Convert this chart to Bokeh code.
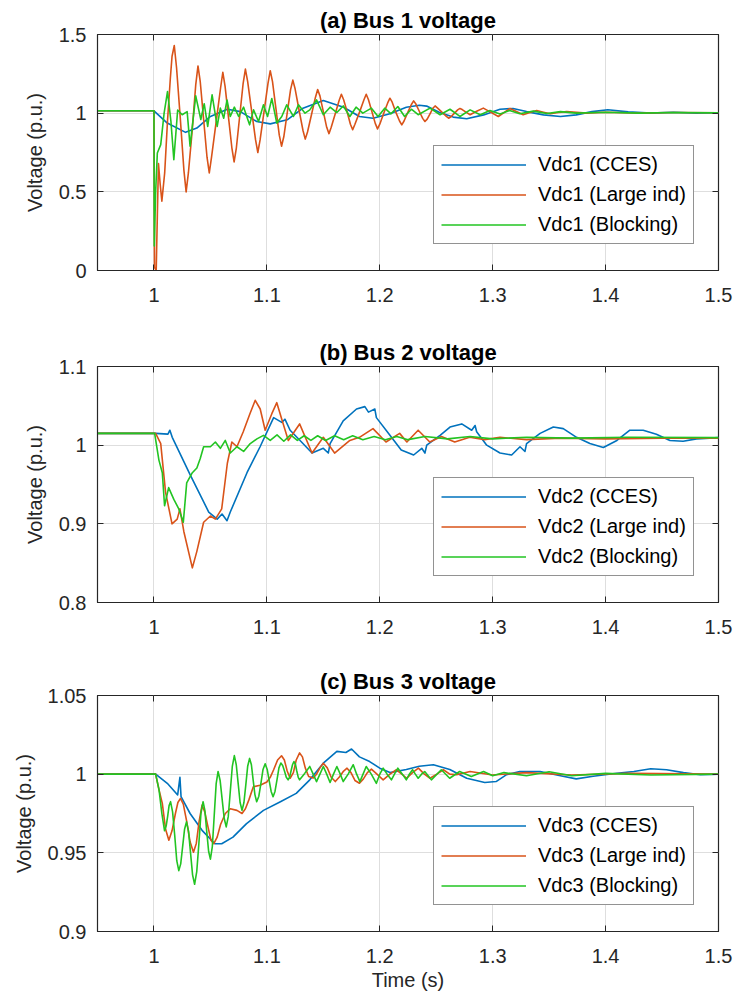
from bokeh.plotting import figure
from bokeh.layouts import column
from bokeh.models import FixedTicker, LinearAxis, Legend, LegendItem, Range1d
from bokeh.embed import file_html
from bokeh.resources import INLINE

# ---------------- data ----------------
x_ticks = [1.0, 1.1, 1.2, 1.3, 1.4, 1.5]
x_tick_labels = ["1", "1.1", "1.2", "1.3", "1.4", "1.5"]

a_y_ticks = [0.0, 0.5, 1.0, 1.5]
a_y_labels = ["0", "0.5", "1", "1.5"]
b_y_ticks = [0.8, 0.9, 1.0, 1.1]
b_y_labels = ["0.8", "0.9", "1", "1.1"]
c_y_ticks = [0.9, 0.95, 1.0, 1.05]
c_y_labels = ["0.9", "0.95", "1", "1.05"]

series_names = ["CCES", "Large ind", "Blocking"]

# Panel (a) Bus 1
a_t_cces = [0.95, 1.0, 1.0118, 1.028, 1.038, 1.05, 1.065, 1.0765, 1.091, 1.103, 1.118, 1.132, 1.15,
            1.168, 1.182, 1.194, 1.209, 1.2235, 1.235, 1.2415, 1.253, 1.265, 1.277, 1.292, 1.3065,
            1.318, 1.33, 1.345, 1.36, 1.374, 1.388, 1.402, 1.42, 1.44, 1.46, 1.48, 1.5]
a_v_cces = [1.015, 1.015, 0.937, 0.878, 0.905, 0.979, 1.025, 1.01, 0.947, 0.932, 0.958, 1.032, 1.08,
            1.038, 0.979, 0.968, 0.996, 1.038, 1.05, 1.045, 1.004, 0.975, 0.965, 0.989, 1.025,
            1.03, 1.01, 0.989, 0.979, 0.989, 1.01, 1.022, 1.008, 1.0, 1.006, 1.0, 1.003]

a_t_large = [0.95, 1.0, 1.0005, 1.002, 1.003, 1.004, 1.0055, 1.007, 1.0095, 1.012, 1.0145, 1.016,
             1.018, 1.020, 1.0233, 1.0265, 1.0285, 1.0305, 1.034, 1.037, 1.039, 1.041, 1.044,
             1.047, 1.049, 1.051, 1.055, 1.059, 1.061, 1.063, 1.066, 1.069, 1.071, 1.073, 1.076,
             1.079, 1.081, 1.083, 1.0865, 1.090, 1.092, 1.094, 1.0975, 1.101, 1.103, 1.105, 1.108,
             1.111, 1.113, 1.115, 1.118, 1.121, 1.123, 1.125, 1.1285, 1.132, 1.134, 1.136, 1.1395,
             1.143, 1.145, 1.147, 1.150, 1.153, 1.155, 1.157, 1.1605, 1.164, 1.166, 1.168, 1.171,
             1.174, 1.176, 1.178, 1.182, 1.186, 1.188, 1.190, 1.193, 1.196, 1.198, 1.200, 1.2035,
             1.207, 1.209, 1.211, 1.214, 1.2175, 1.2195, 1.2215, 1.2245, 1.228, 1.23, 1.232,
             1.235, 1.238, 1.24, 1.242, 1.2445, 1.247, 1.249, 1.251, 1.255, 1.259, 1.261, 1.263,
             1.266, 1.269, 1.271, 1.273, 1.276, 1.280, 1.2858, 1.2917, 1.2985, 1.305, 1.310,
             1.3153, 1.321, 1.327, 1.333, 1.339, 1.345, 1.351, 1.358, 1.3655, 1.383, 1.40, 1.43,
             1.46, 1.5]
a_v_large = [1.015, 1.015, 0.02, 0.0, 0.35, 0.68, 0.55, 0.44, 0.62, 0.95, 1.22, 1.36,
             1.43, 1.29, 0.97, 0.64, 0.50, 0.62, 0.90, 1.18, 1.30, 1.20, 0.96,
             0.72, 0.62, 0.72, 0.94, 1.16, 1.26, 1.17, 0.975, 0.78, 0.69, 0.78, 0.985,
             1.19, 1.28, 1.20, 1.015, 0.83, 0.75, 0.83, 1.01, 1.19, 1.27, 1.20, 1.03,
             0.86, 0.79, 0.85, 1.0, 1.15, 1.21, 1.155, 1.02, 0.89, 0.835, 0.88, 0.99,
             1.10, 1.15, 1.11, 1.01, 0.91, 0.87, 0.91, 0.995, 1.08, 1.12, 1.085, 1.01,
             0.93, 0.895, 0.93, 1.005, 1.085, 1.12, 1.085, 1.01, 0.935, 0.90, 0.93, 1.0,
             1.065, 1.095, 1.07, 1.01, 0.95, 0.926, 0.95, 1.0, 1.055, 1.078, 1.058,
             1.012, 0.967, 0.947, 0.962, 0.996, 1.031, 1.046, 1.034, 1.007, 0.98, 0.968, 0.977,
             0.999, 1.021, 1.03, 1.023, 1.008, 0.99, 1.012, 1.032, 1.005, 0.979, 1.003,
             1.03, 1.01, 0.99, 1.004, 1.017, 1.006, 0.996, 1.004, 1.01, 1.0, 1.006, 1.0,
             1.004, 1.003]

a_t_block = [0.95, 1.0, 1.0003, 1.0015, 1.003, 1.006, 1.009, 1.012, 1.015, 1.0176, 1.021, 1.025,
             1.0294, 1.032, 1.037, 1.0415, 1.0445, 1.0476, 1.0515, 1.056, 1.0588, 1.0618, 1.0647,
             1.0676, 1.0712, 1.075, 1.0794, 1.0847, 1.0882, 1.0926, 1.097, 1.1006, 1.1044, 1.1088,
             1.1132, 1.1176, 1.1235, 1.128, 1.1338, 1.138, 1.144, 1.15, 1.156, 1.162, 1.1676,
             1.1735, 1.179, 1.185, 1.1926, 1.1985, 1.2044, 1.21, 1.216, 1.222, 1.228, 1.234,
             1.2445, 1.2534, 1.2622, 1.271, 1.28, 1.289, 1.2976, 1.3065, 1.315, 1.324, 1.336,
             1.348, 1.36, 1.374, 1.40, 1.43, 1.46, 1.5]
a_v_block = [1.015, 1.015, 0.156, 0.5, 0.747, 0.80, 1.0, 1.137, 0.95, 0.705, 1.02, 0.99,
             1.01, 0.79, 1.11, 0.96, 1.06, 0.916, 1.116, 0.916, 1.032, 0.968, 1.084,
             0.979, 1.038, 0.979, 1.038, 0.926, 1.021, 0.947, 1.053, 0.979, 1.093, 0.937,
             0.979, 1.053, 0.979, 1.053, 1.0, 1.021, 1.084, 0.99, 1.038, 1.004, 1.046,
             0.979, 1.038, 1.0, 1.032, 0.979, 1.032, 0.996, 1.042, 0.979, 1.025, 0.99,
             1.032, 0.99, 1.025, 0.979, 1.021, 0.99, 1.017, 0.994, 1.017, 0.996, 1.013,
             0.998, 1.01, 1.0, 1.006, 1.0, 1.004, 1.002]

# Panel (b) Bus 2
b_t_cces = [0.95, 1.0015, 1.0124, 1.0141, 1.0162, 1.032, 1.0485, 1.056, 1.0603, 1.0647, 1.0676,
            1.0824, 1.094, 1.106, 1.1132, 1.116, 1.1206, 1.1294, 1.14, 1.15, 1.1544, 1.156,
            1.1676, 1.1794, 1.1868, 1.19, 1.1956, 1.197, 1.209, 1.219, 1.23, 1.2372, 1.24,
            1.2416, 1.2534, 1.2622, 1.2726, 1.2814, 1.2844, 1.2858, 1.2947, 1.3065, 1.3168,
            1.3242, 1.3286, 1.33, 1.342, 1.3537, 1.3625, 1.3743, 1.3861, 1.398, 1.41, 1.4215,
            1.4333, 1.445, 1.457, 1.4687, 1.4805, 1.5]
b_v_cces = [1.015, 1.015, 1.014, 1.019, 1.010, 0.9625, 0.915, 0.906, 0.9125, 0.904, 0.915,
            0.965, 0.998, 1.035, 1.029, 1.033, 1.019, 1.006, 0.99, 0.996, 0.990, 1.002,
            1.031, 1.046, 1.049, 1.042, 1.046, 1.035, 1.0125, 0.994, 0.9875, 0.996, 0.990,
            1.0, 1.0125, 1.023, 1.027, 1.019, 1.025, 1.017, 1.0, 0.990, 0.9875,
            0.998, 0.992, 1.002, 1.015, 1.023, 1.021, 1.01, 1.002, 0.997, 1.006, 1.019,
            1.019, 1.014, 1.006, 1.005, 1.008, 1.0096]

b_t_large = [0.95, 1.0015, 1.006, 1.0103, 1.016, 1.0206, 1.023, 1.0265, 1.034, 1.038, 1.044, 1.05,
             1.0544, 1.06, 1.065, 1.069, 1.0735, 1.079, 1.085, 1.0897, 1.0941, 1.0985, 1.1044,
             1.1088, 1.1132, 1.119, 1.129, 1.14, 1.15, 1.16, 1.1735, 1.182, 1.194, 1.2055,
             1.2176, 1.224, 1.234, 1.2443, 1.2546, 1.2664, 1.2796, 1.2929, 1.3065, 1.33, 1.36,
             1.4, 1.45, 1.5]
b_v_large = [1.015, 1.015, 1.002, 0.94, 0.90, 0.906, 0.919, 0.89, 0.844, 0.865, 0.902, 0.91,
             0.906, 0.919, 0.977, 1.004, 0.998, 1.0167, 1.04, 1.057, 1.046, 1.019, 1.04,
             1.054, 1.033, 1.006, 1.027, 0.99, 1.010, 0.99, 1.006, 1.01, 1.021, 1.004,
             1.015, 1.004, 1.019, 1.004, 1.011, 1.004, 1.01, 1.007, 1.01, 1.007, 1.009,
             1.008, 1.009, 1.009]

b_t_block = [0.95, 1.0006, 1.0044, 1.0074, 1.0094, 1.013, 1.0176, 1.022, 1.026, 1.029, 1.034,
             1.038, 1.041, 1.044, 1.05, 1.0544, 1.0588, 1.0632, 1.0676, 1.0735, 1.0794, 1.0853,
             1.0912, 1.097, 1.103, 1.109, 1.115, 1.121, 1.127, 1.133, 1.139, 1.145, 1.152, 1.16,
             1.168, 1.176, 1.185, 1.195, 1.205, 1.215, 1.225, 1.24, 1.26, 1.28, 1.3, 1.33, 1.37,
             1.42, 1.5]
b_v_block = [1.015, 1.015, 0.981, 0.965, 0.923, 0.946, 0.931, 0.919, 0.902, 0.952, 0.965,
             0.971, 0.983, 0.998, 0.998, 1.004, 0.996, 1.006, 0.99, 0.998, 0.992, 1.002,
             1.008, 1.0125, 1.006, 1.013, 1.005, 1.013, 1.006, 1.012, 1.006, 1.012, 1.006, 1.012,
             1.007, 1.012, 1.007, 1.011, 1.007, 1.011, 1.007, 1.011, 1.008, 1.011, 1.008, 1.01, 1.009,
             1.01, 1.0096]

# Panel (c) Bus 3
c_t_cces = [0.95, 1.0015, 1.0118, 1.021, 1.023, 1.024, 1.032, 1.0426, 1.054, 1.06, 1.07, 1.082,
            1.097, 1.112, 1.126, 1.138, 1.15, 1.162, 1.17, 1.175, 1.182, 1.191, 1.2, 1.209,
            1.2235, 1.235, 1.2475, 1.262, 1.277, 1.293, 1.303, 1.312, 1.324, 1.342, 1.36, 1.374,
            1.389, 1.41, 1.425, 1.44, 1.454, 1.469, 1.484, 1.5]
c_v_cces = [1.0, 1.0, 0.9942, 0.9868, 0.998, 0.9857, 0.975, 0.9643, 0.9558, 0.9558, 0.96, 0.9686,
            0.977, 0.9825, 0.9878, 0.9964, 1.007, 1.0145, 1.0138, 1.016, 1.011, 1.008, 1.0038, 1.001,
            1.003, 1.005, 1.006, 1.003, 0.9974, 0.9947, 0.9953, 0.9996, 1.0017, 1.0017, 0.999, 0.997,
            0.9987, 1.0006, 1.0017, 1.0034, 1.0028, 1.001, 0.9996, 1.0]

c_t_large = [0.95, 1.0015, 1.0045, 1.0074, 1.0103, 1.0132, 1.016, 1.019, 1.0212, 1.0235, 1.026,
             1.029, 1.032, 1.035, 1.0375, 1.040, 1.0426, 1.045, 1.048, 1.0505, 1.053, 1.056,
             1.059, 1.0632, 1.0676, 1.0735, 1.078, 1.081, 1.084, 1.088, 1.094, 1.1, 1.103, 1.106,
             1.1095, 1.113, 1.1155, 1.118, 1.1206, 1.1235, 1.126, 1.129, 1.1315, 1.134, 1.137,
             1.141, 1.144, 1.147, 1.15, 1.1535, 1.157, 1.1606, 1.164, 1.168, 1.171, 1.1745,
             1.178, 1.182, 1.1855, 1.189, 1.1926, 1.1975, 1.203, 1.209, 1.2147, 1.2195, 1.2239,
             1.229, 1.2342, 1.2395, 1.2445, 1.2505, 1.2563, 1.262, 1.268, 1.28, 1.3, 1.33, 1.37,
             1.42, 1.5]
c_v_large = [1.0, 1.0, 0.990, 0.9814, 0.965, 0.958, 0.964, 0.975, 0.982, 0.9846, 0.981,
             0.970, 0.957, 0.9504, 0.956, 0.970, 0.9803, 0.976, 0.966, 0.958, 0.9558, 0.960,
             0.968, 0.975, 0.978, 0.977, 0.975, 0.978, 0.9835, 0.992, 0.993, 0.995, 0.998, 1.0028,
             1.009, 1.0117, 1.009, 1.002, 0.9974, 1.001, 1.009, 1.0135, 1.011, 1.004, 0.9985,
             0.9975, 1.0, 1.004, 1.007, 1.004, 0.998, 0.9953, 0.998, 1.002, 1.0038, 1.001,
             0.996, 0.9942, 0.997, 1.001, 1.0032, 1.0, 0.9964, 1.0, 1.0028, 1.0, 0.9974,
             1.001, 1.0038, 1.0, 0.9974, 1.0, 1.0028, 1.0, 0.9996, 1.0017, 0.9995, 1.001, 0.9995,
             1.0005, 1.0]

c_t_block = [0.95, 1.0015, 1.0045, 1.0070, 1.0094, 1.0108, 1.0121, 1.0134, 1.0147, 1.0165, 1.0184,
             1.0202, 1.022, 1.0237, 1.0254, 1.0271, 1.0288, 1.0306, 1.0324, 1.0342, 1.036, 1.0379,
             1.0398, 1.0416, 1.0435, 1.0451, 1.0467, 1.0484, 1.05, 1.0517, 1.0534, 1.0551, 1.0568,
             1.0586, 1.0604, 1.0622, 1.064, 1.0658, 1.0676, 1.0694, 1.0712, 1.0729, 1.0746, 1.0763,
             1.078, 1.0797, 1.0814, 1.083, 1.0847, 1.0863, 1.0879, 1.0894, 1.091, 1.0929, 1.0948,
             1.0966, 1.0985, 1.1003, 1.102, 1.1038, 1.1055, 1.1072, 1.109, 1.1107, 1.1124, 1.114,
             1.1156, 1.1172, 1.1188, 1.1201, 1.1214, 1.1227, 1.124, 1.1253, 1.1265, 1.1278, 1.129,
             1.1335, 1.138, 1.141, 1.144, 1.147, 1.15, 1.153, 1.156, 1.159, 1.162, 1.165, 1.1676,
             1.172, 1.1765, 1.1795, 1.1824, 1.1852, 1.188, 1.1925, 1.197, 1.2, 1.203, 1.2065,
             1.2103, 1.213, 1.216, 1.22, 1.2235, 1.2262, 1.229, 1.2315, 1.234, 1.237, 1.2398,
             1.2457, 1.2545, 1.2619, 1.2707, 1.2811, 1.2919, 1.3, 1.31, 1.33, 1.35, 1.37, 1.4,
             1.44, 1.5]
c_v_block = [1.0, 1.0, 0.990, 0.975, 0.964, 0.967, 0.973, 0.980, 0.9825, 0.976, 0.961,
             0.945, 0.9387, 0.943, 0.954, 0.965, 0.9697, 0.964, 0.950, 0.936, 0.930, 0.938,
             0.956, 0.975, 0.9825, 0.977, 0.964, 0.951, 0.946, 0.954, 0.974, 0.994, 1.0017,
             0.996, 0.984, 0.972, 0.9665, 0.973, 0.989, 1.005, 1.0118, 1.006, 0.994, 0.982,
             0.977, 0.982, 0.9935, 1.005, 1.010, 1.006, 0.996, 0.987, 0.9825, 0.986, 0.9945,
             1.003, 1.0066, 1.003, 0.996, 0.989, 0.9857, 0.989, 0.9965, 1.004, 1.0071, 1.0055,
             1.002, 0.998, 0.9964, 0.998, 1.002, 1.006, 1.008, 1.0063, 1.002, 0.998, 0.9964,
             1.0005, 1.0049, 1.0, 0.9953, 1.0, 1.0049, 1.0, 0.9947, 1.0, 1.0049, 1.0, 0.9953,
             1.0, 1.006, 1.0, 0.9953, 1.0, 1.0049, 1.0, 0.9942, 1.0, 1.0038, 1.0,
             0.9964, 1.0, 1.0038, 1.0, 0.9964, 1.0, 1.0028, 1.0, 0.9974, 1.0, 1.0017,
             0.9964, 1.0028, 0.9974, 1.0017, 0.9985, 1.0017, 0.999, 1.001, 0.999, 1.0015, 0.999, 1.0005,
             0.9995, 1.0]

# ---------------- styling ----------------
FONT = "Liberation Sans"
AX = "#262626"
COLORS = ["#0072BD", "#D95319", "#22C422"]
LW = 1.6


def make_panel(title, bus, y_rng, y_ticks, y_labels, series, top, bottom, xlabel=None):
    p = figure(frame_width=621, frame_height=236, x_range=Range1d(0.95, 1.5),
               y_range=Range1d(*y_rng), output_backend="svg", toolbar_location=None,
               min_border_left=97, min_border_right=18, min_border_top=top,
               min_border_bottom=bottom, background_fill_color="white",
               border_fill_color="white", outline_line_color=AX, outline_line_width=1.2)
    p.title.text = title
    p.title.align = "center"
    p.title.text_font = FONT
    p.title.text_font_size = "22px"
    p.title.text_font_style = "bold"
    p.title.text_color = "#000000"
    p.title.standoff = 3

    xt = FixedTicker(ticks=x_ticks)
    yt = FixedTicker(ticks=y_ticks)
    for ax, tk, labs in ((p.xaxis[0], xt, x_tick_labels), (p.yaxis[0], yt, y_labels)):
        ax.ticker = tk
        ax.major_label_overrides = dict(zip(tk.ticks, labs))
        ax.major_label_text_font = FONT
        ax.major_label_text_font_size = "20px"
        ax.major_label_text_color = AX
        ax.major_tick_in = 6
        ax.major_tick_out = 0
        ax.minor_tick_in = 0
        ax.minor_tick_out = 0
        ax.axis_line_color = AX
        ax.major_tick_line_color = AX
        ax.axis_label_text_font = FONT
        ax.axis_label_text_font_size = "20px"
        ax.axis_label_text_font_style = "normal"
        ax.axis_label_text_color = AX
    p.xaxis[0].major_label_standoff = 17
    p.yaxis[0].major_label_standoff = 11
    p.yaxis[0].axis_label = "Voltage (p.u.)"
    p.yaxis[0].axis_label_standoff = 10
    if xlabel:
        p.xaxis[0].axis_label = xlabel
        p.xaxis[0].axis_label_standoff = 3

    for place, tk in (("above", xt), ("right", yt)):
        ax2 = LinearAxis(ticker=tk, major_label_text_font_size="0px", major_tick_in=6,
                         major_tick_out=0, minor_tick_in=0, minor_tick_out=0,
                         axis_line_color=None, major_tick_line_color=AX, major_label_standoff=0,
                         major_label_overrides={t: "" for t in tk.ticks})
        p.add_layout(ax2, place)

    p.xgrid.ticker = xt
    p.ygrid.ticker = yt
    for g in (p.xgrid[0], p.ygrid[0]):
        g.grid_line_color = "#dedede"
        g.grid_line_width = 1

    items = []
    for (t, v), name, col in zip(series, series_names, COLORS):
        r = p.line(t, v, line_color=col, line_width=LW, line_join="round")
        items.append(LegendItem(label="Vdc%d (%s)" % (bus, name), renderers=[r]))
    leg = Legend(items=items, location=(336, 26), label_text_font=FONT,
                 label_text_font_size="20px", label_text_color="#000000",
                 glyph_width=85, glyph_height=23, label_height=23, label_standoff=12,
                 padding=7, spacing=7, margin=0, border_line_color=AX, border_line_width=1,
                 background_fill_color="white", background_fill_alpha=1.0)
    p.add_layout(leg)
    return p


pa = make_panel("(a) Bus 1 voltage", 1, (0, 1.5), a_y_ticks, a_y_labels,
                [(a_t_cces, a_v_cces), (a_t_large, a_v_large), (a_t_block, a_v_block)], 34, 62)
pb = make_panel("(b) Bus 2 voltage", 2, (0.8, 1.1), b_y_ticks, b_y_labels,
                [(b_t_cces, b_v_cces), (b_t_large, b_v_large), (b_t_block, b_v_block)], 34, 59)
pc = make_panel("(c) Bus 3 voltage", 3, (0.9, 1.05), c_y_ticks, c_y_labels,
                [(c_t_cces, c_v_cces), (c_t_large, c_v_large), (c_t_block, c_v_block)], 34, 71,
                xlabel="Time (s)")

layout = column(pa, pb, pc, spacing=0)
open("out.html", "w").write(file_html(layout, INLINE))
